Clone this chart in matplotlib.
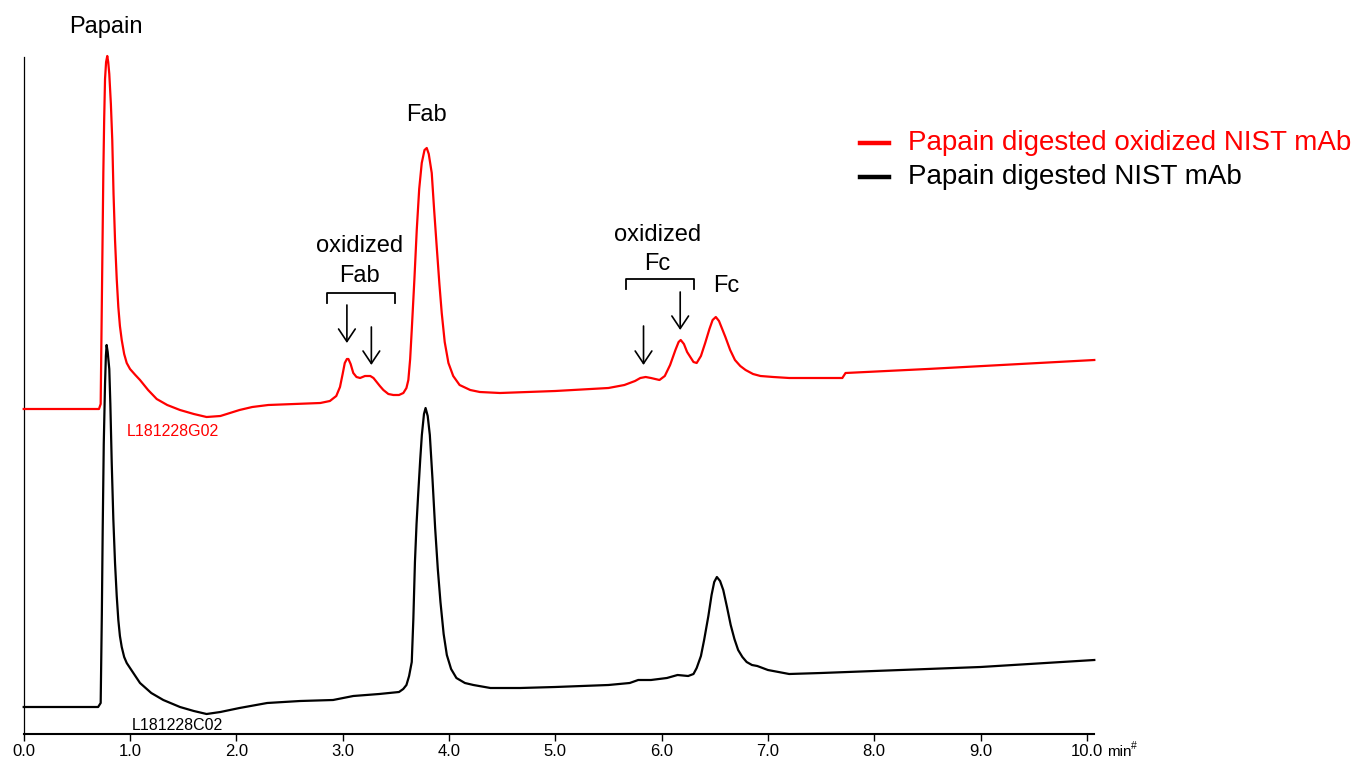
import matplotlib
matplotlib.use("Agg")
import matplotlib.pyplot as plt
from matplotlib.lines import Line2D

plt.rcParams['font.family'] = ['Liberation Sans', 'DejaVu Sans']

# ---- data (time in min, signal in arbitrary units) ----
black_t = [0.0, 0.3, 0.70, 0.724, 0.735, 0.743, 0.753, 0.765, 0.773, 0.78, 0.79, 0.805,
           0.815, 0.828, 0.843, 0.859, 0.875, 0.89, 0.905, 0.922, 0.945, 0.969, 1.0, 1.05,
           1.094, 1.2, 1.313, 1.47, 1.6, 1.72, 1.85, 2.03, 2.29, 2.6, 2.91, 3.1, 3.344,
           3.53, 3.57, 3.60, 3.625, 3.65, 3.665, 3.68, 3.695, 3.71, 3.73, 3.745, 3.765,
           3.78, 3.80, 3.82, 3.845, 3.87, 3.895, 3.92, 3.95, 3.98, 4.02, 4.07, 4.15, 4.23,
           4.39, 4.67, 5.0, 5.5, 5.7, 5.78, 5.9, 6.05, 6.15, 6.25, 6.30, 6.33, 6.37, 6.40,
           6.44, 6.47, 6.495, 6.52, 6.55, 6.58, 6.615, 6.65, 6.685, 6.72, 6.76, 6.80, 6.85,
           6.90, 7.0, 7.2, 7.5, 8.0, 9.0, 10.07]
black_y = [27, 27, 27, 31, 120, 204, 290, 350, 378, 389, 382, 365,
           330, 271, 215, 171, 138, 114, 98, 87, 77, 71, 66, 58,
           51, 41, 34, 27, 23, 20, 22, 26, 31, 33, 34, 38, 40,
           42, 45, 49, 58, 72, 115, 172, 210, 239, 275, 299, 320,
           326, 318, 299, 255, 206, 165, 132, 100, 79, 65, 56, 51, 49,
           46, 46, 47, 49, 51, 54, 54, 56, 59, 58, 60, 66, 78, 94,
           118, 139, 152, 157, 153, 144, 127, 109, 95, 84, 77, 72, 69,
           68, 64, 60, 61, 63, 67, 74]

red_t = [0.0, 0.708, 0.724, 0.749, 0.757, 0.765, 0.775, 0.786, 0.795, 0.805, 0.82, 0.833,
         0.845, 0.859, 0.875, 0.89, 0.905, 0.922, 0.945, 0.969, 1.0, 1.05, 1.094, 1.17,
         1.251, 1.35, 1.47, 1.6, 1.72, 1.85, 2.03, 2.15, 2.3, 2.79, 2.88, 2.94, 2.975,
         3.0, 3.02, 3.04, 3.054, 3.075, 3.10, 3.13, 3.164, 3.21, 3.26, 3.29, 3.32, 3.35,
         3.383, 3.43, 3.477, 3.53, 3.571, 3.60, 3.618, 3.635, 3.65, 3.675, 3.697, 3.72,
         3.744, 3.77, 3.791, 3.81, 3.838, 3.86, 3.885, 3.91, 3.932, 3.96, 3.995, 4.04,
         4.10, 4.2, 4.29, 4.48, 5.0, 5.5, 5.65, 5.75, 5.8, 5.85, 5.9, 5.98, 6.03, 6.08,
         6.13, 6.16, 6.18, 6.21, 6.24, 6.27, 6.30, 6.33, 6.37, 6.41, 6.45, 6.48, 6.51,
         6.54, 6.57, 6.6, 6.645, 6.69, 6.74, 6.79, 6.86, 6.93, 7.05, 7.2, 7.7, 7.73,
         8.5, 10.07]
red_y = [325, 325, 330, 561, 615, 655, 672, 678, 672, 660, 630, 594,
         540, 494, 455, 427, 408, 394, 380, 371, 365, 359, 354, 344,
         335, 329, 324, 320, 317, 318, 324, 327, 329, 331, 333, 338, 347,
         360, 371, 375, 375, 370, 361, 357, 356, 358, 358, 356, 352, 348,
         344, 340, 339, 339, 341, 346, 354, 375, 404, 455, 504, 545,
         571, 584, 586, 580, 561, 525, 487, 450, 421, 392, 371, 358,
         349, 344, 342, 341, 343, 346, 349, 353, 356, 357, 356, 354, 358, 369,
         384, 392, 394, 390, 382, 377, 372, 371, 378, 391, 405, 414, 417,
         413, 405, 397, 384, 374, 368, 364, 360, 358, 357, 356, 356, 361,
         365, 374]

x_ticks = [0, 1, 2, 3, 4, 5, 6, 7, 8, 9, 10]
x_tick_labels = ['0.0', '1.0', '2.0', '3.0', '4.0', '5.0', '6.0', '7.0', '8.0', '9.0', '10.0']
legend_labels = ['Papain digested oxidized NIST mAb', 'Papain digested NIST mAb']
series_colors = ['#ff0000', '#000000']

W, H = 1360, 760
fig = plt.figure(figsize=(W / 100, H / 100), dpi=100)
ax = fig.add_axes([23.7 / W, 1 - 734 / H, (1094.3 - 23.7) / W, (734 - 56.7) / H])

ax.plot(black_t, black_y, color=series_colors[1], lw=1.6, solid_joinstyle='round', clip_on=False, zorder=3)
ax.plot(red_t, red_y, color=series_colors[0], lw=1.6, solid_joinstyle='round', clip_on=False, zorder=4)

ax.set_xlim(0, 10.07)
ax.set_ylim(0, 677.3)
ax.set_xticks(x_ticks)
ax.set_xticklabels(x_tick_labels, fontsize=12)
ax.tick_params(axis='x', direction='out', length=5, width=1, pad=2)
ax.set_yticks([])
for s in ['top', 'right']:
    ax.spines[s].set_visible(False)
ax.spines['left'].set_linewidth(0.9)
ax.spines['bottom'].set_linewidth(1.5)

# axis unit label
fig.text(1107 / W, 1 - 752 / H, 'min', fontsize=11, va='center', ha='left')
fig.text(1131 / W, 1 - 746 / H, '#', fontsize=7.5, va='center', ha='left')

# annotations
fs = 17
ax.text(0.77, 707, 'Papain', fontsize=fs, ha='center', va='center', clip_on=False)
ax.text(3.79, 619, 'Fab', fontsize=fs, ha='center', va='center')
ax.text(3.16, 488, 'oxidized', fontsize=fs, ha='center', va='center')
ax.text(3.16, 458, 'Fab', fontsize=fs, ha='center', va='center')
ax.text(5.96, 499, 'oxidized', fontsize=fs, ha='center', va='center')
ax.text(5.96, 470, 'Fc', fontsize=fs, ha='center', va='center')
ax.text(6.61, 448, 'Fc', fontsize=fs, ha='center', va='center')

ax.text(1.40, 302, 'L181228G02', fontsize=11.5, color='#ff0000', ha='center', va='center')
ax.text(1.445, 9, 'L181228C02', fontsize=11.5, color='black', ha='center', va='center', clip_on=False)

# brackets
def bracket(x0, x1, y, d):
    ax.plot([x0, x0, x1, x1], [y - d, y, y, y - d], color='black', lw=1.3)

bracket(2.853, 3.49, 441, 10)
bracket(5.666, 6.305, 455, 10)

# arrows
def arrow(x, ytop, ybot):
    ax.annotate('', xy=(x, ybot), xytext=(x, ytop),
                arrowprops=dict(arrowstyle='->, head_length=0.45, head_width=0.3',
                                mutation_scale=20, lw=1.2, color='black',
                                shrinkA=0, shrinkB=0))

arrow(3.04, 429, 391)
arrow(3.27, 407, 369)
arrow(5.83, 408, 369)
arrow(6.175, 442, 404)

# legend (manual)
for i, (lab, col) in enumerate(zip(legend_labels, series_colors)):
    yy = 1 - (143 + 34 * i) / H
    fig.add_artist(Line2D([860 / W, 889 / W], [yy, yy], lw=3.2, color=col))
    fig.text(908 / W, yy, lab, fontsize=20, color=col, ha='left', va='center')

fig.savefig('out.png', dpi=100)
